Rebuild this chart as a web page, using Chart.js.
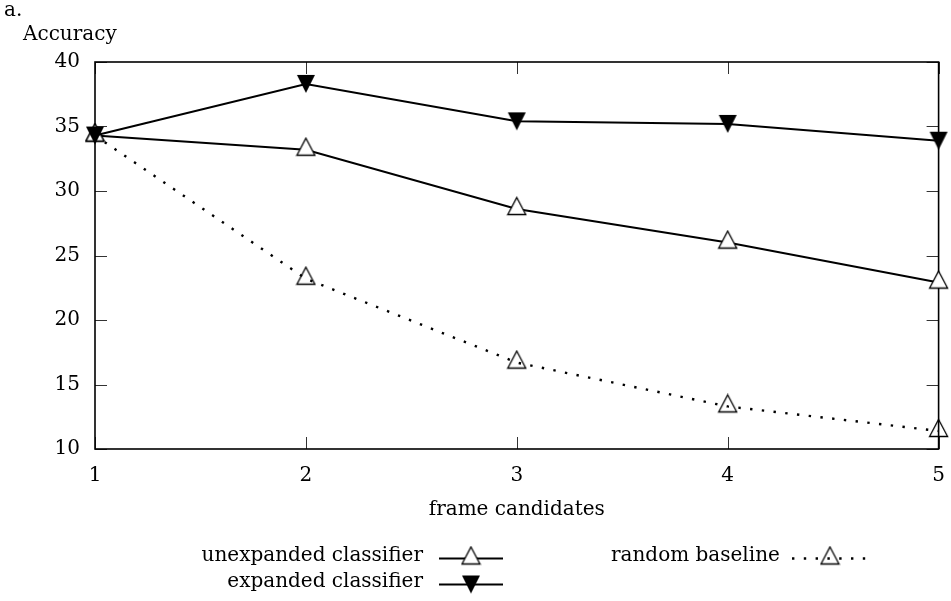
<!DOCTYPE html>
<html>
<head>
<meta charset="utf-8">
<title>Accuracy vs frame candidates</title>
<script src="https://cdn.jsdelivr.net/npm/chart.js@4.4.0/dist/chart.umd.min.js"></script>
<style>
  html, body { margin: 0; padding: 0; background: #fff; }
  #chart { display: block; }
</style>
</head>
<body>
<canvas id="chart" width="951" height="601"></canvas>
<script>
// data
const candidates = [1, 2, 3, 4, 5];
const unexpanded = [34.3, 33.2, 28.6, 26.0, 22.9];
const expanded = [34.3, 38.3, 35.4, 35.2, 33.9];
const randomBaseline = [34.3, 23.2, 16.7, 13.3, 11.4];
const yTicks = [10, 15, 20, 25, 30, 35, 40];
const seriesLabels = ['unexpanded classifier', 'expanded classifier', 'random baseline'];

const FONT = '"DejaVu Serif", serif';
const ink = '#000';

// marker helpers (gnuplot-ish triangles, taller than equilateral)
function upTriangle(fill) {
  const c = document.createElement('canvas');
  c.width = 21; c.height = 26;
  const g = c.getContext('2d');
  g.beginPath();
  g.moveTo(10.5, 1.5);
  g.lineTo(19.5, 18.5);
  g.lineTo(1.5, 18.5);
  g.closePath();
  if (fill) { g.fillStyle = fill; g.fill(); }
  g.strokeStyle = ink;
  g.lineWidth = 1.3;
  g.stroke();
  return c;
}
function downTriangle() {
  const c = document.createElement('canvas');
  c.width = 20; c.height = 20;
  const g = c.getContext('2d');
  g.beginPath();
  g.moveTo(1, 1);
  g.lineTo(19, 1);
  g.lineTo(10, 19);
  g.closePath();
  g.fillStyle = ink;
  g.fill();
  return c;
}
const openTri = upTriangle('#fff');
const hollowTri = upTriangle(null);
const solidTri = downTriangle();

const toPoints = arr => candidates.map((c, i) => ({ x: c, y: arr[i] }));

// box frame + inward tick marks
const framePlugin = {
  id: 'frame',
  beforeDatasetsDraw(chart) {
    const { ctx, chartArea: a, scales } = chart;
    ctx.save();
    ctx.strokeStyle = '#333';
    ctx.lineWidth = 1;
    ctx.beginPath();
    scales.y.ticks.forEach(t => {
      const py = Math.round(scales.y.getPixelForValue(t.value)) + 0.5;
      ctx.moveTo(a.left, py); ctx.lineTo(a.left + 12, py);
      ctx.moveTo(a.right, py); ctx.lineTo(a.right - 12, py);
    });
    scales.x.ticks.forEach(t => {
      const px = Math.round(scales.x.getPixelForValue(t.value)) + 0.5;
      ctx.moveTo(px, a.bottom); ctx.lineTo(px, a.bottom - 12);
      ctx.moveTo(px, a.top); ctx.lineTo(px, a.top + 12);
    });
    ctx.stroke();
    ctx.strokeStyle = ink;
    ctx.lineWidth = 1.6;
    ctx.strokeRect(a.left, a.top, a.right - a.left, a.bottom - a.top);
    ctx.restore();
  }
};

// panel letter, y title and the two-column legend
const labelsPlugin = {
  id: 'labels',
  afterDraw(chart) {
    const ctx = chart.ctx;
    ctx.save();
    ctx.fillStyle = ink;
    ctx.font = '20px ' + FONT;
    ctx.textBaseline = 'middle';
    ctx.textAlign = 'left';
    ctx.fillText('a.', 4, 11);
    ctx.fillText('Accuracy', 23, 35);

    const ds = chart.data.datasets;
    const spots = [
      { right: 423, y: 556, x0: 439, x1: 503 },
      { right: 423, y: 582, x0: 439, x1: 503 },
      { left: 611, y: 556, x0: 792, x1: 868 }
    ];
    spots.forEach((s, i) => {
      const d = ds[i];
      ctx.fillStyle = ink;
      if (s.left !== undefined) {
        ctx.textAlign = 'left';
        ctx.fillText(d.label, s.left, s.y);
      } else {
        ctx.textAlign = 'right';
        ctx.fillText(d.label, s.right, s.y);
      }
      const ly = s.y + 2.5;
      ctx.strokeStyle = ink;
      ctx.lineWidth = d.borderWidth;
      ctx.setLineDash(d.borderDash || []);
      ctx.beginPath();
      ctx.moveTo(s.x0, ly);
      ctx.lineTo(s.x1, ly);
      ctx.stroke();
      ctx.setLineDash([]);
      const img = d.pointStyle;
      const mx = (s.x0 + s.x1) / 2;
      ctx.drawImage(img, mx - img.width / 2, ly - img.height / 2);
    });
    ctx.restore();
  }
};

new Chart(document.getElementById('chart'), {
  type: 'line',
  data: {
    datasets: [
      {
        label: seriesLabels[0],
        data: toPoints(unexpanded),
        borderColor: ink,
        borderWidth: 2,
        pointStyle: openTri,
        pointRadius: 10
      },
      {
        label: seriesLabels[1],
        data: toPoints(expanded),
        borderColor: ink,
        borderWidth: 2,
        pointStyle: solidTri,
        pointRadius: 10
      },
      {
        label: seriesLabels[2],
        data: toPoints(randomBaseline),
        borderColor: ink,
        borderWidth: 2.4,
        borderDash: [2.4, 9.4],
        pointStyle: hollowTri,
        pointRadius: 10
      }
    ].map((d, i) => Object.assign(d, { order: i === 1 ? 0 : i + 1, tension: 0, fill: false, clip: false }))
  },
  options: {
    responsive: false,
    animation: false,
    events: [],
    layout: { padding: { top: 62, right: 12, left: 0, bottom: 0 } },
    plugins: {
      legend: { display: false },
      tooltip: { enabled: false }
    },
    scales: {
      x: {
        type: 'linear',
        min: 1,
        max: 5,
        afterBuildTicks: s => { s.ticks = candidates.map(v => ({ value: v })); },
        afterFit: s => { s.height = 152; s.paddingLeft = 0; s.paddingRight = 0; },
        grid: { display: false, drawTicks: false },
        border: { display: false },
        ticks: { color: ink, padding: 15, font: { family: FONT, size: 20 } },
        title: {
          display: true,
          text: 'frame candidates',
          color: ink,
          font: { family: FONT, size: 20 },
          padding: { top: 0, bottom: 79 }
        }
      },
      y: {
        min: 10,
        max: 40,
        afterBuildTicks: s => { s.ticks = yTicks.map(v => ({ value: v })); },
        afterFit: s => { s.width = 95; s.paddingTop = 0; s.paddingBottom = 0; },
        grid: { display: false, drawTicks: false },
        border: { display: false },
        ticks: { color: ink, padding: 15, font: { family: FONT, size: 20 } }
      }
    }
  },
  plugins: [framePlugin, labelsPlugin]
});
</script>
</body>
</html>
